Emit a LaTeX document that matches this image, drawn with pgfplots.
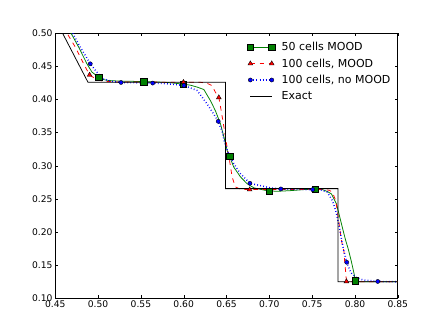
\documentclass[border=0pt]{standalone}
\usepackage{fontspec}
\setmainfont{DejaVu Sans}
\usepackage{pgfplots}
\usepackage{pgfplotstable}
\pgfplotsset{compat=1.18}

\definecolor{mplgreen}{rgb}{0,0.5,0}

% 50 cells, MOOD
\pgfplotstableread{
x y
0.4600 0.5210
0.4684 0.5000
0.4773 0.4790
0.4870 0.4538
0.4929 0.4412
0.5007 0.4336
0.5060 0.4300
0.5130 0.4285
0.5250 0.4277
0.5400 0.4273
0.5533 0.4270
0.5700 0.4263
0.5850 0.4252
0.5997 0.4230
0.6080 0.4215
0.6160 0.4185
0.6235 0.4150
0.6313 0.3980
0.6370 0.3830
0.6430 0.3630
0.6470 0.3430
0.6510 0.3220
0.6535 0.3143
0.6585 0.2978
0.6664 0.2830
0.6742 0.2727
0.6820 0.2667
0.6937 0.2633
0.7000 0.2620
0.7100 0.2615
0.7250 0.2625
0.7400 0.2640
0.7533 0.2650
0.7620 0.2640
0.7680 0.2610
0.7725 0.2575
0.7784 0.2425
0.7823 0.2223
0.7862 0.2020
0.7890 0.1880
0.7921 0.1746
0.7960 0.1544
0.7990 0.1368
0.8005 0.1265
0.8050 0.1252
0.8200 0.1250
0.8500 0.1250
}\greenline
\pgfplotstableread{
x y
0.5007 0.4336
0.5533 0.4270
0.5997 0.4230
0.6535 0.3143
0.7000 0.2620
0.7533 0.2650
0.8005 0.1265
}\greenmarks

% 100 cells, MOOD
\pgfplotstableread{
x y
0.4550 0.5220
0.4637 0.5000
0.4734 0.4790
0.4831 0.4538
0.4901 0.4370
0.4987 0.4297
0.5060 0.4275
0.5200 0.4265
0.5500 0.4262
0.5997 0.4260
0.6200 0.4258
0.6270 0.4245
0.6330 0.4210
0.6390 0.4060
0.6410 0.4030
0.6438 0.3830
0.6470 0.3580
0.6500 0.3330
0.6535 0.3080
0.6566 0.2827
0.6605 0.2680
0.6664 0.2645
0.6770 0.2640
0.7200 0.2640
0.7650 0.2640
0.7700 0.2630
0.7737 0.2600
0.7775 0.2475
0.7794 0.2320
0.7826 0.2020
0.7842 0.1870
0.7872 0.1700
0.7880 0.1544
0.7892 0.1390
0.7900 0.1260
0.7950 0.1252
0.8500 0.1250
}\redline
\pgfplotstableread{
x y
0.4901 0.4370
0.5997 0.4260
0.6410 0.4030
0.6770 0.2640
0.7900 0.1255
}\redmarks

% 100 cells, no MOOD
\pgfplotstableread{
x y
0.4600 0.5240
0.4703 0.5000
0.4792 0.4790
0.4909 0.4538
0.4987 0.4410
0.5065 0.4310
0.5150 0.4275
0.5268 0.4256
0.5450 0.4252
0.5638 0.4247
0.5800 0.4238
0.6003 0.4211
0.6157 0.4135
0.6274 0.3930
0.6350 0.3780
0.6403 0.3670
0.6450 0.3510
0.6476 0.3355
0.6508 0.3230
0.6585 0.3030
0.6664 0.2878
0.6773 0.2736
0.6898 0.2700
0.7015 0.2665
0.7135 0.2650
0.7300 0.2645
0.7506 0.2640
0.7600 0.2636
0.7678 0.2600
0.7736 0.2475
0.7775 0.2324
0.7802 0.2173
0.7826 0.2020
0.7842 0.1896
0.7865 0.1746
0.7904 0.1544
0.7951 0.1390
0.8010 0.1317
0.8087 0.1280
0.8266 0.1255
0.8500 0.1250
}\blueline
\pgfplotstableread{
x y
0.4909 0.4538
0.5268 0.4256
0.5638 0.4247
0.6003 0.4211
0.6403 0.3670
0.6773 0.2736
0.7135 0.2650
0.7506 0.2640
0.7904 0.1544
0.8266 0.1255
}\bluemarks

% exact solution
\pgfplotstableread{
x y
0.4500 0.5212
0.4585 0.5000
0.4882 0.4260
0.6488 0.4260
0.6488 0.2655
0.7803 0.2655
0.7803 0.1250
0.8500 0.1250
}\exact

\tikzset{
  gline/.style={mplgreen, line width=1pt},
  gmark/.style={mark=square*, mark size=4.2pt, mark options={solid, fill=mplgreen, draw=black, line width=0.5pt}},
  rline/.style={red, line width=1pt, dash pattern=on 6pt off 6pt},
  rmark/.style={mark=triangle*, mark size=3.6pt, mark options={solid, fill=red, draw=black, line width=0.5pt}},
  bline/.style={blue, line width=2pt, dash pattern=on 1pt off 3pt},
  bmark/.style={mark=*, mark size=2.7pt, mark options={solid, fill=blue, draw=black, line width=0.5pt}},
  eline/.style={black, line width=1pt},
}
% legend handles: a 28pt line, markers at both ends, then a gap before the text
\pgfplotsset{
  twomarks/.style={legend image code/.code={
    \draw[mark repeat=2, mark phase=1, ##1] plot coordinates {(0pt,0pt) (14pt,0pt) (28pt,0pt)};
    \path (38pt,0pt);}},
  nomarks/.style={legend image code/.code={
    \draw[##1] (0pt,0pt) -- (28pt,0pt);
    \path (38pt,0pt);}},
}

\begin{document}
\begin{tikzpicture}
\begin{axis}[
    at={(0,0)}, anchor=south west,
    scale only axis, width=6.2in, height=4.8in,
    xmin=0.45, xmax=0.85, ymin=0.10, ymax=0.50,
    xtick={0.45,0.5,0.55,0.6,0.65,0.7,0.75,0.8,0.85},
    ytick={0.1,0.15,0.2,0.25,0.3,0.35,0.4,0.45,0.5},
    scaled ticks=false,
    /pgf/number format/fixed,
    /pgf/number format/fixed zerofill,
    /pgf/number format/precision=2,
    /pgf/number format/assume math mode=true,
    tick label style={font=\fontsize{12}{14}\selectfont},
    tick align=inside, major tick length=4pt,
    tick style={black, line width=0.5pt},
    axis line style={black, line width=1pt},
    legend cell align=left,
    legend style={draw=none, fill=none, at={(0.99,0.977)}, anchor=north east,
      font=\fontsize{14.4}{17}\selectfont, row sep=5pt},
]

\addplot[gline, no marks, forget plot] table {\greenline};
\addplot[only marks, gmark, forget plot] table {\greenmarks};
\addplot[rline, no marks, forget plot] table {\redline};
\addplot[only marks, rmark, forget plot] table {\redmarks};
\addplot[bline, no marks, forget plot] table {\blueline};
\addplot[only marks, bmark, forget plot] table {\bluemarks};
\addplot[eline, no marks, forget plot] table {\exact};

\addlegendimage{gline, gmark, twomarks}
\addlegendentry{50 cells MOOD}
\addlegendimage{rline, rmark, twomarks}
\addlegendentry{100 cells, MOOD}
\addlegendimage{bline, bmark, twomarks}
\addlegendentry{100 cells, no MOOD}
\addlegendimage{eline, nomarks}
\addlegendentry{Exact}
\end{axis}
% figure canvas, 8in x 6in like the original
\path (-1in,-0.6in) rectangle (7in,5.4in);
\end{tikzpicture}
\end{document}
